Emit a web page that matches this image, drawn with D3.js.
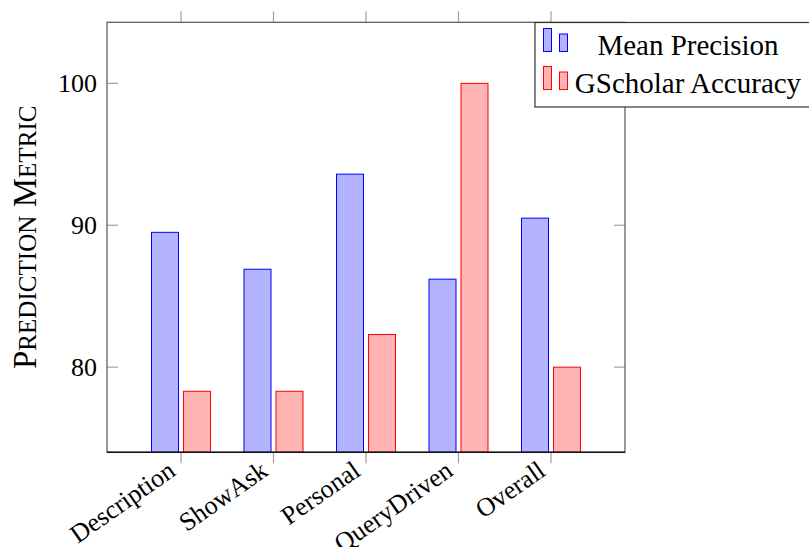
<!DOCTYPE html>
<html>
<head>
<meta charset="utf-8">
<script src="https://cdn.jsdelivr.net/npm/d3@7"></script>
<style>
  html, body { margin: 0; padding: 0; background: #fff; }
  svg { display: block; font-family: "Liberation Serif", "Times New Roman", serif; }
</style>
</head>
<body>
<svg id="chart" width="809" height="547"></svg>
<script>
// Categories and series values
const categories = ["Description", "ShowAsk", "Personal", "QueryDriven", "Overall"];
const meanPrecision = [89.5, 86.9, 93.6, 86.2, 90.5];
const gscholarAccuracy = [78.3, 78.3, 82.3, 100, 80];
const seriesNames = ["Mean Precision", "GScholar Accuracy"];
const yTicks = [80, 90, 100];
const yLabel = "Prediction Metric";

const seriesStyle = [
  { stroke: "#0000ff", fill: "#b3b3ff" },
  { stroke: "#ff0000", fill: "#ffb3b3" }
];
const seriesValues = [meanPrecision, gscholarAccuracy];

const svg = d3.select("#chart");
const plot = { left: 107, right: 625, top: 22.3, bottom: 452.3 };

const x = d3.scalePoint().domain(categories).range([plot.left, plot.right]).padding(0.8);
const sub = d3.scaleBand().domain(seriesNames).range([-29.5, 29.5]).paddingInner(0.156);
const y = d3.scaleLinear().domain([74, 104.3]).range([plot.bottom, plot.top]);

// Bars
seriesNames.forEach((name, si) => {
  svg.append("g")
    .selectAll("rect")
    .data(categories.map((c, i) => ({ c, v: seriesValues[si][i] })))
    .join("rect")
    .attr("x", d => x(d.c) + sub(name))
    .attr("width", sub.bandwidth())
    .attr("y", d => y(d.v))
    .attr("height", d => plot.bottom - y(d.v))
    .attr("fill", seriesStyle[si].fill)
    .attr("stroke", seriesStyle[si].stroke)
    .attr("stroke-width", 1);
});

// Tick marks: y ticks inward on both sides, x ticks outward top and bottom
const tickColor = "#a0a0a0";
const tickLen = 11;
const ticks = svg.append("g").attr("stroke", tickColor).attr("stroke-width", 1.2);
yTicks.forEach(t => {
  ticks.append("line").attr("x1", plot.left).attr("x2", plot.left + tickLen).attr("y1", y(t)).attr("y2", y(t));
  ticks.append("line").attr("x1", plot.right - tickLen).attr("x2", plot.right).attr("y1", y(t)).attr("y2", y(t));
});
categories.forEach(c => {
  ticks.append("line").attr("x1", x(c)).attr("x2", x(c)).attr("y1", plot.top - tickLen).attr("y2", plot.top);
  ticks.append("line").attr("x1", x(c)).attr("x2", x(c)).attr("y1", plot.bottom).attr("y2", plot.bottom + tickLen);
});

// Frame
svg.append("rect")
  .attr("x", plot.left).attr("y", plot.top)
  .attr("width", plot.right - plot.left).attr("height", plot.bottom - plot.top)
  .attr("fill", "none").attr("stroke", "#555").attr("stroke-width", 1.2);
svg.append("line")
  .attr("x1", plot.left).attr("x2", plot.right)
  .attr("y1", plot.bottom).attr("y2", plot.bottom)
  .attr("stroke", "#111").attr("stroke-width", 1.4);

// Y tick labels
svg.append("g")
  .selectAll("text")
  .data(yTicks)
  .join("text")
  .attr("x", 97)
  .attr("y", d => y(d))
  .attr("dy", "0.35em")
  .attr("text-anchor", "end")
  .attr("font-size", 26)
  .attr("fill", "#000")
  .text(d => d);

// X tick labels, rotated
svg.append("g")
  .selectAll("text")
  .data(categories)
  .join("text")
  .attr("transform", d => `translate(${x(d) - 4},${plot.bottom + 22}) rotate(-35)`)
  .attr("text-anchor", "end")
  .attr("font-size", 26)
  .attr("fill", "#000")
  .text(d => d);

// Y axis title in small caps: initials full size, the rest as reduced capitals
const titleSize = 33;
const smallRatio = 0.76;
const title = svg.append("text")
  .attr("transform", `translate(36,${(plot.top + plot.bottom) / 2}) rotate(-90)`)
  .attr("text-anchor", "middle")
  .attr("fill", "#000");
yLabel.split(" ").forEach((word, wi) => {
  const lead = word[0].toUpperCase();
  const rest = word.slice(1).toUpperCase();
  title.append("tspan").attr("font-size", titleSize).text((wi > 0 ? " " : "") + lead);
  title.append("tspan").attr("font-size", titleSize * smallRatio).text(rest);
});

// Legend
const legend = svg.append("g");
legend.append("rect")
  .attr("x", 535).attr("y", 22.5)
  .attr("width", 300).attr("height", 84.5)
  .attr("fill", "#fff").attr("stroke", "#333").attr("stroke-width", 1.2);
const legendRows = [55, 93];
seriesNames.forEach((name, si) => {
  const base = legendRows[si] - 3.5;
  legend.append("rect")
    .attr("x", 543.5).attr("width", 8).attr("y", base - 23).attr("height", 23)
    .attr("fill", seriesStyle[si].fill).attr("stroke", seriesStyle[si].stroke).attr("stroke-width", 1);
  legend.append("rect")
    .attr("x", 559.5).attr("width", 8).attr("y", base - 17.5).attr("height", 17.5)
    .attr("fill", seriesStyle[si].fill).attr("stroke", seriesStyle[si].stroke).attr("stroke-width", 1);
  legend.append("text")
    .attr("x", 688).attr("y", legendRows[si])
    .attr("text-anchor", "middle")
    .attr("font-size", 29)
    .attr("fill", "#000")
    .text(name);
});
</script>
</body>
</html>
